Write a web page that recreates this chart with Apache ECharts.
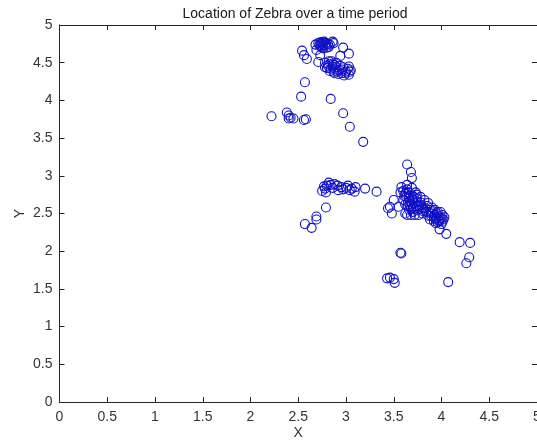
<!DOCTYPE html>
<html>
<head>
<meta charset="utf-8">
<style>
  html, body { margin: 0; padding: 0; background: #ffffff; }
  #chart { width: 537px; height: 442px; }
</style>
<script src="https://cdn.jsdelivr.net/npm/echarts@6/dist/echarts.min.js"></script>
</head>
<body>
<div id="chart"></div>
<script>
// Zebra positions, grouped by where the animal spent time
const upperGroupX = [2.54, 2.56, 2.59, 2.68, 2.71, 2.75, 2.79, 2.83, 2.80, 2.74, 2.69, 2.86, 2.87, 2.97, 3.03, 2.94, 2.73, 2.71,
  2.78, 2.82, 2.85, 2.88, 2.80, 2.84, 2.90, 2.93, 2.87, 2.95, 3.00, 3.02, 3.05, 2.98, 3.03, 2.92, 2.78, 2.90, 3.03, 3.04,
  2.57, 2.53, 2.84, 2.22, 2.38, 2.40, 2.42, 2.45, 2.40, 2.56, 2.58, 2.97, 3.04, 3.18,
  2.72, 2.74, 2.76, 2.78, 2.81, 2.77, 2.73, 2.82, 2.76,
  2.81, 2.86, 2.89, 2.83, 2.91, 2.96, 2.99, 2.86, 2.94, 2.97, 2.82, 2.88];
const upperGroupY = [4.66, 4.60, 4.55, 4.74, 4.76, 4.77, 4.76, 4.74, 4.70, 4.71, 4.67, 4.78, 4.76, 4.70, 4.62, 4.59, 4.60, 4.51,
  4.50, 4.48, 4.52, 4.47, 4.43, 4.42, 4.44, 4.40, 4.38, 4.36, 4.38, 4.42, 4.40, 4.33, 4.34, 4.35, 4.44, 4.50, 4.45, 4.38,
  4.24, 4.05, 4.02, 3.79, 3.84, 3.80, 3.77, 3.76, 3.76, 3.74, 3.75, 3.83, 3.65, 3.45,
  4.73, 4.75, 4.74, 4.73, 4.75, 4.78, 4.77, 4.71, 4.69,
  4.46, 4.45, 4.41, 4.39, 4.38, 4.41, 4.36, 4.49, 4.46, 4.44, 4.52, 4.36];

const middleGroupX = [2.75, 2.77, 2.82, 2.84, 2.79, 2.91, 2.92, 2.95, 3.02, 3.04, 3.09, 3.10, 3.20, 3.32,
  2.79, 2.69, 2.69, 2.57, 2.64,
  2.78, 2.80, 2.86, 2.88, 2.97, 3.06, 3.00];
const middleGroupY = [2.80, 2.86, 2.91, 2.88, 2.78, 2.87, 2.81, 2.85, 2.87, 2.81, 2.79, 2.85, 2.83, 2.79,
  2.58, 2.46, 2.42, 2.36, 2.31,
  2.83, 2.87, 2.84, 2.89, 2.82, 2.83, 2.84];

const rightGroupX = [3.64, 3.68, 3.69, 3.64, 3.58, 3.57,
  3.60, 3.62, 3.64, 3.66, 3.63, 3.66, 3.68, 3.70, 3.65, 3.60, 3.62, 3.67, 3.72, 3.74, 3.70, 3.76, 3.78, 3.80,
  3.75, 3.82, 3.85, 3.84, 3.88, 3.90, 3.86, 3.92, 3.95, 3.94, 3.97, 4.00, 3.98, 4.02, 3.96, 4.00, 3.92, 3.88,
  3.80, 3.76, 3.72, 3.68, 3.64, 3.62, 3.70, 3.66, 3.73, 3.69, 3.78, 3.82, 3.74, 3.86, 3.90, 3.93, 3.96, 4.01, 3.99,
  3.61, 3.63, 3.67, 3.69, 3.71, 3.73, 3.77, 3.79, 3.81, 3.83, 3.87, 3.89, 3.91, 3.93, 3.95, 3.99, 4.01, 3.97,
  4.03, 3.94, 3.65, 3.71, 3.75, 3.68,
  3.44, 3.46, 3.50, 3.55, 3.48, 3.98, 4.05, 4.19, 4.30, 4.29, 4.26,
  3.57, 3.58, 3.43, 3.46, 3.50, 3.51, 4.07];
const rightGroupY = [3.15, 3.05, 2.97, 2.88, 2.85, 2.78,
  2.80, 2.76, 2.82, 2.78, 2.72, 2.70, 2.74, 2.68, 2.65, 2.68, 2.62, 2.60, 2.64, 2.70, 2.58, 2.60, 2.65, 2.58,
  2.55, 2.55, 2.60, 2.52, 2.55, 2.50, 2.47, 2.45, 2.50, 2.42, 2.46, 2.44, 2.40, 2.42, 2.38, 2.36, 2.40, 2.42,
  2.50, 2.48, 2.48, 2.48, 2.48, 2.50, 2.52, 2.55, 2.78, 2.84, 2.72, 2.68, 2.75, 2.64, 2.58, 2.55, 2.52, 2.48, 2.52,
  2.73, 2.78, 2.66, 2.62, 2.72, 2.60, 2.56, 2.61, 2.53, 2.57, 2.51, 2.47, 2.53, 2.48, 2.44, 2.43, 2.39, 2.41,
  2.45, 2.37, 2.60, 2.56, 2.65, 2.56,
  2.57, 2.59, 2.68, 2.59, 2.50, 2.29, 2.23, 2.12, 2.11, 1.92, 1.84,
  1.98, 1.97, 1.64, 1.65, 1.63, 1.58, 1.59];

const tickValues = [0, 0.5, 1, 1.5, 2, 2.5, 3, 3.5, 4, 4.5, 5];
const titleText = 'Location of Zebra over a time period';
const xName = 'X';
const yName = 'Y';

function pairs(xs, ys) {
  return xs.map((x, i) => [x, ys[i]]);
}
const points = [].concat(
  pairs(upperGroupX, upperGroupY),
  pairs(middleGroupX, middleGroupY),
  pairs(rightGroupX, rightGroupY)
);

const FONT = 'Liberation Sans, Arial, sans-serif';
const AXIS_COLOR = '#262626';
const LABEL_COLOR = '#333333';

// Shared settings for the four frame axes (ticks point into the plot, MATLAB style)
function frameAxis(position, extra) {
  return Object.assign({
    type: 'value',
    position: position,
    min: tickValues[0],
    max: tickValues[tickValues.length - 1],
    interval: 0.5,
    axisLine: { show: true, onZero: false, lineStyle: { color: AXIS_COLOR, width: 1 } },
    axisTick: { show: true, inside: true, length: 5, lineStyle: { color: AXIS_COLOR, width: 1 } },
    splitLine: { show: false },
    axisLabel: { show: false }
  }, extra || {});
}

const chart = echarts.init(document.getElementById('chart'), null, { renderer: 'canvas' });
chart.setOption({
  animation: false,
  backgroundColor: '#ffffff',
  title: {
    text: titleText,
    left: 290,
    top: 2,
    textAlign: 'center',
    textStyle: { fontFamily: FONT, fontSize: 14, fontWeight: 'normal', color: '#1a1a1a' }
  },
  grid: { left: 59.5, top: 25, right: 0, bottom: 40, containLabel: false, outerBoundsMode: 'none' },
  xAxis: [
    frameAxis('bottom', {
      name: xName,
      nameLocation: 'middle',
      nameGap: 24,
      nameMoveOverlap: false,
      nameTextStyle: { fontFamily: FONT, fontSize: 14, color: LABEL_COLOR },
      axisLabel: { show: true, fontFamily: FONT, fontSize: 14, color: LABEL_COLOR, margin: 8 }
    }),
    frameAxis('top')
  ],
  yAxis: [
    frameAxis('left', {
      name: yName,
      nameLocation: 'middle',
      nameGap: 32,
      nameMoveOverlap: false,
      nameRotate: 90,
      nameTextStyle: { fontFamily: FONT, fontSize: 14, color: LABEL_COLOR },
      axisLabel: { show: true, fontFamily: FONT, fontSize: 14, color: LABEL_COLOR, margin: 7 }
    }),
    // right edge of the frame falls on the canvas border: ticks only
    frameAxis('right', {
      axisLine: { show: false, onZero: false }
    })
  ],
  series: [{
    type: 'scatter',
    xAxisIndex: 0,
    yAxisIndex: 0,
    symbol: 'circle',
    symbolSize: 9,
    itemStyle: { color: 'rgba(0,0,0,0)', borderColor: '#1010c4', borderWidth: 1.1, opacity: 1 },
    data: points
  }]
});
</script>
</body>
</html>
